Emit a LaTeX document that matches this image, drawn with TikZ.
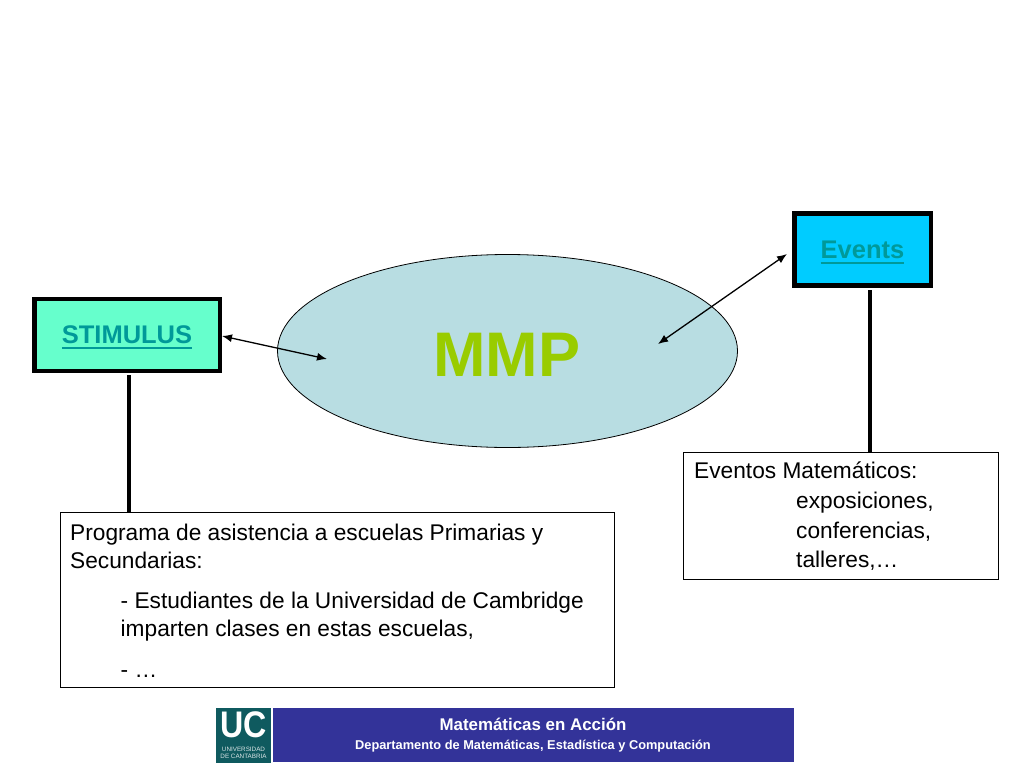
\documentclass[tikz,border=0pt]{standalone}
\usepackage{fontspec}
\setmainfont{Liberation Sans}
\usetikzlibrary{shapes.geometric,arrows.meta}
\definecolor{linkc}{HTML}{009999}
\definecolor{mint}{HTML}{66FFCC}
\definecolor{sky}{HTML}{00CCFF}
\definecolor{ell}{HTML}{B8DDE2}
\definecolor{mmpc}{HTML}{99CC00}
\definecolor{band}{HTML}{333399}
\definecolor{ucg}{HTML}{0F5A5F}
\newlength{\ulinkw}
\newcommand{\ulink}[1]{\settowidth{\ulinkw}{#1}#1\llap{\smash{\rule[-5.5pt]{\ulinkw}{2pt}}}}
\tikzset{
 topbox/.style={draw=black,line width=4.5pt,minimum width=#1,minimum height=72pt,inner sep=0pt,font=\fontsize{25.5}{28}\selectfont\bfseries,text=linkc},
 textbox/.style={draw=black,line width=0.8pt,fill=white,anchor=north west,inner sep=0pt},
 thick line/.style={line width=4pt},
 dbl/.style={line width=1.3pt,{Latex[length=10pt,width=8pt]}-{Latex[length=10pt,width=8pt]}},
 body/.style={anchor=base west,inner sep=0pt,font=\fontsize{22.7}{28}\selectfont}
}
\begin{document}
\begin{tikzpicture}[x=1pt,y=-1pt]
\useasboundingbox (0,0) rectangle (1024,768);
\fill[white] (0,0) rectangle (1024,768);
% ellipse
\node[ellipse,draw=black,line width=0.8pt,fill=ell,minimum width=460pt,minimum height=193pt,inner sep=0pt] (mmp) at (507.5,351) {};
\node[inner sep=0pt,text=mmpc,font=\fontsize{63}{70}\selectfont\bfseries] (mmpt) at (507,354.5) {MMP};
% top boxes
\node[topbox=185.5pt,fill=mint] (stim) at (127,335) {\ulink{STIMULUS}};
\node[topbox=136.5pt,fill=sky] (ev) at (862.5,249.5) {\ulink{Events}};
% text boxes
\node[textbox,minimum width=554.5pt,minimum height=175pt] (prog) at (59.5,512) {};
\node[textbox,minimum width=315.5pt,minimum height=127pt] (evt) at (682.5,452) {};
% vertical connectors
\coordinate (s1) at (129,375);
\coordinate (e1) at (870,290);
\draw[thick line] (s1) -- (s1 |- prog.north);
\draw[thick line] (e1) -- (e1 |- evt.north);
% arrows
\coordinate (a1) at (222,336);
\coordinate (a2) at (327,359);
\coordinate (b1) at (787,254);
\coordinate (b2) at (658,344);
\draw[dbl] (a1) -- (a2);
\draw[dbl] (b1) -- (b2);
% texts
\node[body] (t1) at (70,540) {Programa de asistencia a escuelas Primarias y};
\node[body] (t1b) at (70,568) {Secundarias:};
\node[body] (t2) at (120.5,608) {- Estudiantes de la Universidad de Cambridge};
\node[body] (t2b) at (120.5,636) {imparten clases en estas escuelas,};
\node[body] (t3) at (120.5,677) {- …};
\node[body] (t4) at (694,478) {Eventos Matemáticos:};
\node[body] (t5) at (796,508) {exposiciones,};
\node[body] (t6) at (796,538) {conferencias,};
\node[body] (t7) at (796,567) {talleres,…};
% footer
\node[fill=band,minimum width=521pt,minimum height=54pt,inner sep=0pt,anchor=north west] (bar) at (273,708) {};
\node[inner sep=0pt,text=white,font=\fontsize{16.9}{18}\selectfont\bfseries] (f1) at (533,724) {Matemáticas en Acción};
\node[inner sep=0pt,text=white,font=\fontsize{12.8}{14}\selectfont\bfseries] (f2) at (533,746) {Departamento de Matemáticas, Estadística y Computación};
\node[fill=ucg,minimum width=55pt,minimum height=55pt,inner sep=0pt,anchor=north west] (logo) at (216,708) {};
\node[inner sep=0pt,text=white,font=\fontsize{37}{38}\selectfont\bfseries] (uc) at (243.5,725) {\scalebox{0.87}[1]{UC}};
\node[inner sep=0pt,text=white!85!ucg,font=\fontsize{6.3}{7.3}\selectfont,align=center] (ucs) at (243.5,752.8) {UNIVERSIDAD\\DE CANTABRIA};
\end{tikzpicture}
\end{document}
